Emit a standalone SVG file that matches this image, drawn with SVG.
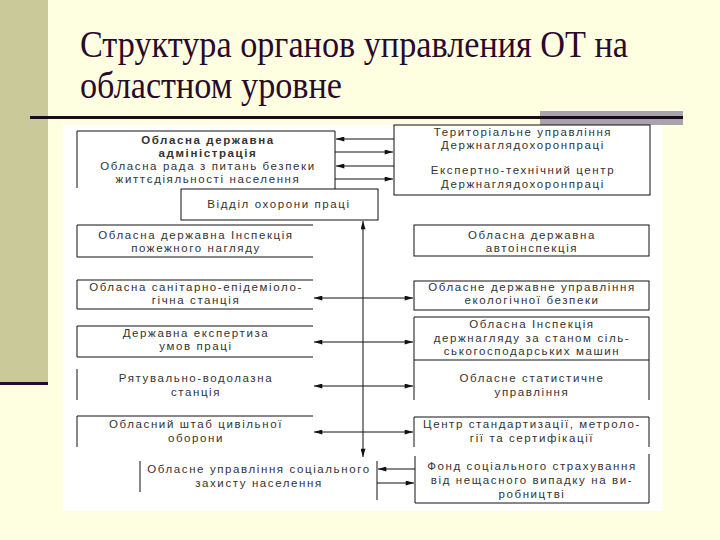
<svg xmlns="http://www.w3.org/2000/svg" width="720" height="540" viewBox="0 0 720 540">
<defs>
<style>
.t{font-family:"Liberation Sans",Arial,sans-serif;font-size:11.5px;letter-spacing:1.6px;fill:#333;text-anchor:middle}
.b{font-weight:bold}
.title{font-family:"Liberation Serif","Times New Roman",serif;font-size:38px;fill:#2a0a2a}
.e{fill:none;stroke:#111;stroke-width:1}
.c{fill:none;stroke:#111;stroke-width:1}
</style>
<marker id="ah" viewBox="0 0 10 6" refX="10" refY="3" markerWidth="9" markerHeight="5" markerUnits="userSpaceOnUse" orient="auto-start-reverse">
<path d="M0,0 L10,3 L0,6 z" fill="#111"/>
</marker>
</defs>
<rect x="0" y="0" width="720" height="540" fill="#FEFEE0"/>
<rect x="0" y="0" width="48" height="382" fill="#C9C999"/>
<rect x="0" y="382" width="48" height="3" fill="#2a0a2a"/>
<text class="title" x="80" y="57" textLength="548" lengthAdjust="spacingAndGlyphs">Структура органов управления ОТ на</text>
<text class="title" x="80" y="98" textLength="262" lengthAdjust="spacingAndGlyphs">областном уровне</text>
<rect x="540" y="111" width="143" height="14" fill="#A9A3AE"/>
<rect x="30" y="116" width="653" height="3" fill="#1a0a1a"/>
<rect x="63" y="125" width="600" height="386" fill="#FFFFFF"/>

<g id="node-oda">
<path class="e" d="M77,188 V131 H335 V189"/>
<text class="t b" x="208" y="144">Обласна державна</text>
<text class="t b" x="208" y="157">адміністрація</text>
<text class="t" x="208" y="170">Обласна рада з питань безпеки</text>
<text class="t" x="208" y="183">життєдіяльності населення</text>
</g>
<g id="node-viddil">
<rect class="e" x="181" y="189" width="197" height="31"/>
<text class="t" x="279" y="208">Відділ охорони праці</text>
</g>
<g id="node-teruprav">
<rect class="e" x="394" y="125" width="256" height="70"/>
<text class="t" x="523" y="136">Територіальне управління</text>
<text class="t" x="523" y="149">Держнаглядохоронпраці</text>
<text class="t" x="523" y="174">Експертно-технічний центр</text>
<text class="t" x="523" y="188">Держнаглядохоронпраці</text>
</g>
<g id="node-pozh">
<path class="e" d="M313,225 H77 V257 H313"/>
<text class="t" x="196" y="239">Обласна державна Інспекція</text>
<text class="t" x="196" y="252">пожежного нагляду</text>
</g>
<g id="node-avto">
<rect class="e" x="414" y="225" width="235" height="31"/>
<text class="t" x="532" y="239">Обласна державна</text>
<text class="t" x="532" y="252">автоінспекція</text>
</g>
<g id="node-ses">
<path class="e" d="M313,280 H77 V309 H313"/>
<text class="t" x="196" y="291">Обласна санітарно-епідеміоло-</text>
<text class="t" x="196" y="304">гічна станція</text>
</g>
<g id="node-eko">
<rect class="e" x="414" y="281" width="235" height="29"/>
<text class="t" x="532" y="291">Обласне державне управління</text>
<text class="t" x="532" y="304">екологічної безпеки</text>
</g>
<g id="node-ekspert">
<path class="e" d="M313,326 H77 V357 H313"/>
<text class="t" x="196" y="337">Державна експертиза</text>
<text class="t" x="196" y="350">умов праці</text>
</g>
<g id="node-silgosp">
<path class="e" d="M414,360 V317 H649 V360 M414,360 H649"/>
<text class="t" x="532" y="328">Обласна Інспекція</text>
<text class="t" x="532" y="342">держнагляду за станом сіль-</text>
<text class="t" x="532" y="355">ськогосподарських машин</text>
</g>
<g id="node-ryat">
<path class="e" d="M77,369 V400"/>
<text class="t" x="196" y="382">Рятувально-водолазна</text>
<text class="t" x="196" y="396">станція</text>
</g>
<g id="node-stat">
<path class="e" d="M414,360 V400 M649,360 V400"/>
<text class="t" x="532" y="382">Обласне статистичне</text>
<text class="t" x="532" y="396">управління</text>
</g>
<g id="node-shtab">
<path class="e" d="M77,447 V416 H313"/>
<text class="t" x="196" y="428">Обласний штаб цивільної</text>
<text class="t" x="196" y="442">оборони</text>
</g>
<g id="node-standart">
<path class="e" d="M414,447 V417 H649 V447"/>
<text class="t" x="532" y="428">Центр стандартизації, метроло-</text>
<text class="t" x="532" y="442">гії та сертифікації</text>
</g>
<g id="node-sots">
<path class="e" d="M140,461 V492 M377,461 V500"/>
<text class="t" x="259" y="473">Обласне управління соціального</text>
<text class="t" x="259" y="487">захисту населення</text>
</g>
<g id="node-fond">
<path class="e" d="M415,456 V503 H649 V454"/>
<text class="t" x="532" y="470">Фонд соціального страхування</text>
<text class="t" x="532" y="484">від нещасного випадку на ви-</text>
<text class="t" x="532" y="498">робництві</text>
</g>

<g id="connectors">
<path class="c" d="M394,139 H336" marker-end="url(#ah)"/>
<path class="c" d="M335,152 H393" marker-end="url(#ah)"/>
<path class="c" d="M394,166 H336" marker-end="url(#ah)"/>
<path class="c" d="M335,179 H393" marker-end="url(#ah)"/>
<path class="c" d="M363,457 V221" marker-start="url(#ah)" marker-end="url(#ah)"/>
<path class="c" d="M314,298 H413" marker-start="url(#ah)" marker-end="url(#ah)"/>
<path class="c" d="M314,342 H413" marker-start="url(#ah)" marker-end="url(#ah)"/>
<path class="c" d="M314,386 H413" marker-start="url(#ah)" marker-end="url(#ah)"/>
<path class="c" d="M314,432 H413" marker-start="url(#ah)" marker-end="url(#ah)"/>
<path class="c" d="M415,469 H378" marker-end="url(#ah)"/>
<path class="c" d="M377,483 H414" marker-end="url(#ah)"/>
</g>
</svg>
